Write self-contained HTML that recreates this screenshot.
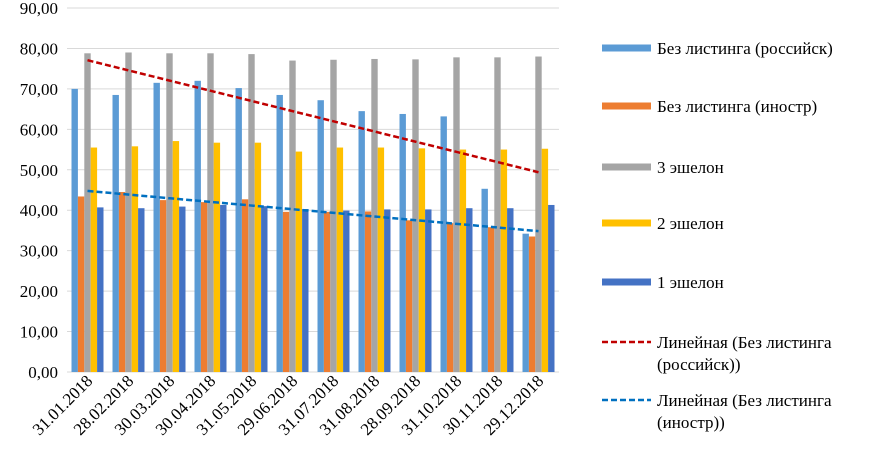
<!DOCTYPE html>
<html><head><meta charset="utf-8"><style>
body{margin:0;background:#fff;}
svg, svg text{font-family:"Liberation Serif","Times New Roman","DejaVu Serif",serif;}
</style></head><body>
<svg id="chart" width="878" height="468" viewBox="0 0 878 468" font-family="Liberation Serif, Times New Roman, serif"></svg>
<script>
const categories=["31.01.2018","28.02.2018","30.03.2018","30.04.2018","31.05.2018","29.06.2018","31.07.2018","31.08.2018","28.09.2018","31.10.2018","30.11.2018","29.12.2018"];
const seriesNames=["Без листинга (российск)","Без листинга (иностр)","3 эшелон","2 эшелон","1 эшелон"];
const rusValues=[70,68.5,71.5,72,70.2,68.5,67.2,64.5,63.8,63.2,45.3,34.2];
const forValues=[43.4,44.5,42.5,42,42.7,39.6,39.6,39.7,37.5,36.8,35.8,33.5];
const tier3Values=[78.8,79,78.8,78.8,78.6,77,77.2,77.4,77.3,77.8,77.8,78];
const tier2Values=[55.5,55.8,57.1,56.7,56.7,54.5,55.5,55.5,55.3,55,55,55.2];
const tier1Values=[40.7,40.5,40.9,41.3,41,40.3,39.9,40.2,40.2,40.5,40.5,41.3];
const yTicks=[0,10,20,30,40,50,60,70,80,90];
const yTickLabels=["0,00","10,00","20,00","30,00","40,00","50,00","60,00","70,00","80,00","90,00"];

const NS="http://www.w3.org/2000/svg";
const svg=document.getElementById('chart');
const FONT='"Liberation Serif", "Times New Roman", serif';
const colors=["#5B9BD5","#ED7D31","#A5A5A5","#FFC000","#4472C4"];
const allSeries=[rusValues,forValues,tier3Values,tier2Values,tier1Values];
const X0=67,BAND=41,Y0=372,YTOP=8,YMAX=90;
function y(v){return Y0-(v/YMAX)*(Y0-YTOP);}
function xBand(i){return X0+i*BAND;}
const BW=6.4,GROUP=BW*5,OFF=(BAND-GROUP)/2;
function mk(tag,attrs,parent){const e=document.createElementNS(NS,tag);for(const k in attrs)e.setAttribute(k,attrs[k]);if(tag==='text'){e.style.fontFamily=FONT;e.setAttribute('fill','#000');}(parent||svg).appendChild(e);return e;}

yTicks.forEach((t,i)=>{
  const g=mk('line',{x1:X0,x2:X0+BAND*12,y1:y(t),y2:y(t),stroke:'#d9d9d9','stroke-width':1});
  
  
  const tx=mk('text',{x:58,y:y(t)+6,'text-anchor':'end','font-size':17});
  tx.textContent=yTickLabels[i];
  
  
});

allSeries.forEach((vals,s)=>{
  vals.forEach((v,i)=>{
    const r=mk('rect',{x:xBand(i)+OFF+s*BW,y:y(v),width:BW,height:Y0-y(v),fill:colors[s]});
    
    
  });
});

function trend(vals){const n=vals.length;let sx=0,sy=0,sxy=0,sxx=0;vals.forEach((v,i)=>{sx+=i;sy+=v;sxy+=i*v;sxx+=i*i;});const b=(n*sxy-sx*sy)/(n*sxx-sx*sx);const a=(sy-b*sx)/n;return [a,a+b*(n-1)];}
[[rusValues,"#C00000"],[forValues,"#0070C0"]].forEach((p,k)=>{
  const [a,b]=trend(p[0]);
  const l=mk('line',{x1:xBand(0)+BAND/2,x2:xBand(11)+BAND/2,y1:y(a),y2:y(b),stroke:p[1],'stroke-width':2.5,'stroke-dasharray':'6,3'});
  
  
});

categories.forEach((c,i)=>{
  const cx=xBand(i)+BAND/2+6;
  const t=mk('text',{x:cx,y:382,'text-anchor':'end','font-size':17,transform:'rotate(-45 '+cx+' 382)'});
  t.textContent=c;
  
  
});

const legY=[48,106,167,223,282];
seriesNames.forEach((n,i)=>{
  const r=mk('rect',{x:602,y:legY[i]-3.5,width:49,height:7,fill:colors[i]});
  
  
  const t=mk('text',{x:657,y:legY[i]+6,'font-size':17});
  t.textContent=n;
  
  
});
[[342,"#C00000","(российск))"],[400,"#0070C0","(иностр))"]].forEach(p=>{
  const l=mk('line',{x1:602,x2:651,y1:p[0],y2:p[0],stroke:p[1],'stroke-width':2.5,'stroke-dasharray':'6,3'});
  
  
  const t=mk('text',{x:657,y:p[0]+6,'font-size':17});
  t.textContent="Линейная (Без листинга";
  
  
  const t2=mk('text',{x:657,y:p[0]+28,'font-size':17});
  t2.textContent=p[2];
  
  
});
</script>
</body></html>
